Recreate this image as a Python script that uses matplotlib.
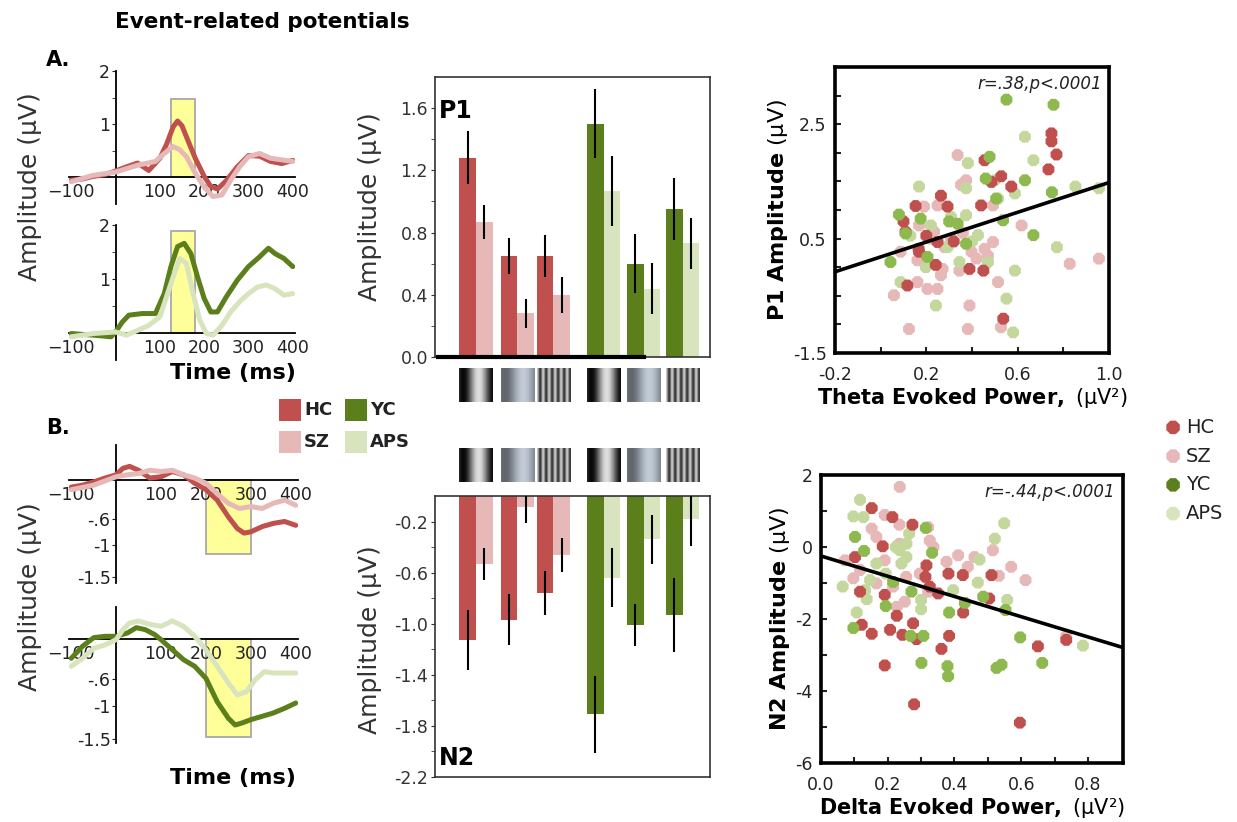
import numpy as np
import matplotlib.pyplot as plt
from matplotlib.patches import Rectangle

# ---- colours ----
c_hc, c_sz, c_yc, c_aps = '#C0504D', '#E6B9B8', '#5B7F1B', '#D7E4BD'
s_yc, s_aps = '#8DB94F', '#C4D89D'

# ---- ERP waveforms (A: P1 window, B: N2 window) ----
t_a_hc = [-100, -75, -50, -25, 0, 25, 50, 75, 100, 115, 130, 140, 150, 165, 180, 200, 215, 230, 250, 275, 300, 325, 350, 375, 400]
v_a_hc = [-0.05, -0.03, 0.02, 0.05, 0.12, 0.2, 0.27, 0.13, 0.36, 0.62, 0.95, 1.06, 0.97, 0.66, 0.36, 0.02, -0.17, -0.22, -0.06, 0.2, 0.41, 0.40, 0.30, 0.26, 0.32]
t_a_sz = [-100, -50, 0, 50, 90, 110, 130, 145, 160, 180, 200, 220, 240, 260, 280, 300, 325, 350, 375, 400]
v_a_sz = [-0.08, 0.04, 0.1, 0.23, 0.3, 0.45, 0.58, 0.52, 0.39, 0.08, -0.18, -0.36, -0.33, -0.05, 0.2, 0.39, 0.45, 0.36, 0.33, 0.3]
t_a_yc = [-100, -50, -10, 0, 15, 30, 60, 90, 110, 125, 140, 155, 170, 185, 200, 215, 230, 250, 275, 300, 325, 345, 360, 380, 400]
v_a_yc = [-0.01, -0.04, -0.07, 0.02, 0.2, 0.33, 0.36, 0.36, 0.73, 1.23, 1.6, 1.66, 1.47, 1.04, 0.64, 0.39, 0.39, 0.67, 0.98, 1.23, 1.41, 1.57, 1.47, 1.38, 1.23]
t_a_aps = [-100, -50, 0, 25, 50, 75, 100, 115, 130, 145, 160, 175, 190, 205, 220, 240, 260, 280, 300, 320, 340, 360, 380, 400]
v_a_aps = [-0.07, -0.01, 0.02, -0.04, 0.05, 0.14, 0.3, 0.67, 1.04, 1.38, 1.29, 0.73, 0.24, -0.01, -0.04, 0.14, 0.39, 0.58, 0.73, 0.85, 0.89, 0.82, 0.7, 0.73]

t_b_hc = [-100, -75, -50, -25, 0, 15, 30, 50, 75, 100, 125, 150, 175, 200, 225, 250, 270, 285, 300, 325, 350, 375, 400]
v_b_hc = [-0.11, -0.08, -0.03, 0.03, 0.08, 0.18, 0.21, 0.15, 0.03, 0.05, 0.13, 0.08, -0.05, -0.15, -0.31, -0.57, -0.75, -0.82, -0.8, -0.72, -0.67, -0.64, -0.7]
t_b_sz = [-100, -50, 0, 25, 50, 75, 100, 125, 150, 175, 200, 225, 250, 275, 300, 325, 350, 375, 400]
v_b_sz = [-0.15, -0.08, 0.05, 0.08, 0.1, 0.15, 0.13, 0.15, 0.08, 0.03, -0.05, -0.21, -0.36, -0.44, -0.41, -0.44, -0.36, -0.31, -0.39]
t_b_yc = [-100, -75, -50, -25, 0, 25, 45, 65, 85, 100, 125, 150, 175, 200, 225, 250, 265, 280, 300, 325, 350, 375, 400]
v_b_yc = [-0.29, -0.11, 0.02, 0.04, 0.04, 0.09, 0.17, 0.14, 0.07, -0.01, -0.16, -0.31, -0.41, -0.59, -0.94, -1.19, -1.29, -1.26, -1.21, -1.16, -1.11, -1.04, -0.96]
t_b_aps = [-100, -75, -50, -25, 0, 15, 30, 50, 75, 100, 125, 150, 175, 200, 225, 250, 270, 290, 310, 330, 350, 375, 400]
v_b_aps = [-0.41, -0.29, -0.14, -0.09, -0.01, 0.14, 0.24, 0.27, 0.22, 0.19, 0.27, 0.19, 0.04, -0.16, -0.41, -0.66, -0.84, -0.79, -0.61, -0.49, -0.51, -0.51, -0.51]

# ---- bar data: three stimulus conditions per group ----
p1_hc, p1_hc_e = [1.28, 0.65, 0.65], [0.17, 0.115, 0.135]
p1_sz, p1_sz_e = [0.87, 0.28, 0.40], [0.11, 0.095, 0.115]
p1_yc, p1_yc_e = [1.50, 0.60, 0.95], [0.22, 0.19, 0.20]
p1_aps, p1_aps_e = [1.07, 0.44, 0.73], [0.225, 0.165, 0.165]
n2_hc, n2_hc_e = [-1.13, -0.97, -0.76], [0.235, 0.20, 0.175]
n2_sz, n2_sz_e = [-0.53, -0.09, -0.46], [0.125, 0.12, 0.135]
n2_yc, n2_yc_e = [-1.71, -1.01, -0.93], [0.30, 0.165, 0.29]
n2_aps, n2_aps_e = [-0.64, -0.34, -0.18], [0.23, 0.19, 0.215]

# ---- scatter data ----
p1_hc_x = [0.748, 0.748, 0.770, 0.735, 0.455, 0.485, 0.528, 0.572, 0.264, 0.293, 0.44, 0.153, 0.109, 0.168, 0.117, 0.389, 0.45, 0.537, 0.249, 0.10, 0.241, 0.166, 0.20, 0.32]
p1_hc_y = [2.34, 2.20, 1.97, 1.71, 1.87, 1.49, 1.59, 1.41, 1.25, 1.06, 1.08, 1.07, 0.62, 0.27, -0.32, -0.03, -0.06, -0.90, 0.44, 0.80, 0.04, 0.32, 0.55, 0.45]
p1_sz_x = [0.337, 0.374, 0.352, 0.249, 0.19, 0.168, 0.234, 0.271, 0.264, 0.161, 0.161, 0.205, 0.249, 0.058, 0.124, 0.382, 0.389, 0.527, 0.514, 0.492, 0.617, 0.828, 0.956, 0.398, 0.455, 0.345, 0.087, 0.308, 0.42, 0.492, 0.28, 0.22, 0.36, 0.47]
p1_sz_y = [1.96, 1.52, 1.44, 1.08, 1.06, 0.73, 0.62, -0.03, -0.14, 0.12, -0.26, -0.38, -0.38, -0.49, -1.08, -1.08, -0.67, -1.05, -0.26, 0.44, 0.73, 0.06, 0.15, 0.27, 0.32, -0.06, 0.27, 0.5, 0.15, 1.08, 0.35, 0.5, 0.6, 0.2]
p1_yc_x = [0.551, 0.757, 0.477, 0.632, 0.75, 0.506, 0.536, 0.08, 0.175, 0.337, 0.109, 0.043, 0.205, 0.374, 0.669, 0.30, 0.46]
p1_yc_y = [2.93, 2.84, 1.93, 1.52, 1.31, 1.2, 0.82, 0.92, 0.85, 0.76, 0.59, 0.09, 0.18, 0.41, 0.56, 0.80, 1.55]
p1_aps_x = [0.632, 0.669, 0.382, 0.168, 0.374, 0.5, 0.588, 0.853, 0.956, 0.22, 0.308, 0.374, 0.426, 0.772, 0.588, 0.551, 0.58, 0.087, 0.242, 0.198, 0.345, 0.47, 0.514, 0.293, 0.13, 0.40]
p1_aps_y = [2.28, 1.87, 1.82, 1.41, 1.38, 1.52, 1.29, 1.41, 1.38, 0.73, 0.88, 0.91, 0.56, 0.35, -0.06, -0.55, -1.14, -0.26, -0.67, 0.0, 0.09, 0.09, 1.2, 0.35, 0.55, 0.45]

n2_hc_x = [0.152, 0.214, 0.274, 0.185, 0.102, 0.117, 0.122, 0.152, 0.207, 0.244, 0.276, 0.286, 0.191, 0.279, 0.361, 0.384, 0.426, 0.382, 0.425, 0.316, 0.313, 0.326, 0.351, 0.511, 0.504, 0.65, 0.596, 0.735, 0.227, 0.191]
n2_hc_y = [1.08, 0.83, 0.62, 0.02, -0.28, -1.24, -2.16, -2.41, -2.3, -2.44, -2.12, -2.56, -3.29, -4.37, -2.83, -2.47, -1.82, -0.74, -0.78, -0.51, -0.83, -1.1, -1.29, -0.78, -1.43, -2.76, -4.88, -2.58, -1.91, -1.33]
n2_sz_x = [0.236, 0.191, 0.235, 0.152, 0.166, 0.321, 0.326, 0.337, 0.235, 0.072, 0.097, 0.117, 0.191, 0.255, 0.296, 0.251, 0.227, 0.321, 0.376, 0.411, 0.44, 0.46, 0.515, 0.533, 0.57, 0.613, 0.735, 0.166, 0.216]
n2_sz_y = [1.67, 0.89, 0.62, 0.51, 0.28, 0.55, 0.18, 0.0, 0.09, -0.37, -0.87, -0.64, -0.37, -0.83, -0.74, -1.52, -1.66, -1.24, -0.41, -0.23, -0.55, -0.28, -0.09, -0.8, -0.55, -0.92, -2.48, -1.01, -1.1]
n2_yc_x = [0.102, 0.129, 0.314, 0.333, 0.216, 0.271, 0.194, 0.097, 0.269, 0.307, 0.301, 0.384, 0.379, 0.381, 0.486, 0.553, 0.597, 0.526, 0.541, 0.663, 0.431]
n2_yc_y = [0.28, -0.11, 0.53, -0.16, -0.97, -1.24, -1.64, -2.25, -2.47, -2.47, -3.22, -1.82, -3.31, -3.59, -1.38, -1.75, -2.51, -3.36, -3.27, -3.22, -1.55]
n2_aps_x = [0.117, 0.097, 0.127, 0.264, 0.236, 0.224, 0.256, 0.256, 0.065, 0.107, 0.132, 0.137, 0.166, 0.194, 0.241, 0.3, 0.3, 0.396, 0.475, 0.47, 0.521, 0.549, 0.558, 0.785, 0.147]
n2_aps_y = [1.31, 0.85, 0.83, 0.37, -0.09, 0.0, 0.09, -0.28, -1.1, -1.82, -1.2, -1.45, -0.46, -0.74, -0.46, -1.47, -1.73, -1.2, -0.35, -0.99, 0.23, 0.66, -1.47, -2.74, -0.92]

p1_fit = (1.30, 0.18)     # slope, intercept
n2_fit = (-2.81, -0.25)

W, H = 1237, 822
fig = plt.figure(figsize=(W / 100, H / 100), dpi=100)


def box(l, t, r, b):
    return [l / W, 1 - b / H, (r - l) / W, (b - t) / H]


def erp_panel(px, ylim, yt, ylab, yminor, win, curves):
    ax = fig.add_axes(box(*px))
    ax.set_xlim(-105, 405)
    ax.set_ylim(*ylim)
    ax.patch.set_alpha(0)
    for s in ['top', 'right']:
        ax.spines[s].set_visible(False)
    ax.spines['left'].set_position(('data', 0))
    ax.spines['bottom'].set_position(('data', 0))
    ax.spines['left'].set_linewidth(1.3)
    ax.spines['bottom'].set_linewidth(1.3)
    ax.set_xticks([-100, 100, 200, 300, 400])
    ax.tick_params(axis='x', length=0, labelsize=12.5, pad=4, colors='#222222')
    ax.set_yticks(yt, ylab)
    ax.set_yticks(yminor, minor=True)
    ax.tick_params(axis='y', which='both', direction='out', length=3, labelsize=12.5, pad=1, colors='#222222')
    ax.add_patch(Rectangle((win[0], win[2]), win[1] - win[0], win[3] - win[2],
                           fc='#FFFF99', ec='#A8A8A8', lw=1.3, zorder=1))
    for t, v, c in curves:
        ax.plot(t, v, color=c, lw=3.6, solid_capstyle='round', zorder=3)
    return ax


erp_panel((69, 71, 295, 204), (-0.5, 2.0), [1, 2], ['1', '2'], [0.5, 1.5], (125, 180, 0, 1.47),
          [(t_a_hc, v_a_hc, c_hc), (t_a_sz, v_a_sz, c_sz)])
erp_panel((69, 225, 295, 360), (-0.5, 2.0), [1, 2], ['1', '2'], [0.5, 1.5], (125, 180, 0, 1.89),
          [(t_a_yc, v_a_yc, c_yc), (t_a_aps, v_a_aps, c_aps)])
erp_panel((69, 445, 298, 583), (-1.59, 0.54), [-1.5, -1.0, -0.6], ['-1.5', '-1', '-.6'], [], (200, 300, -1.15, 0),
          [(t_b_hc, v_b_hc, c_hc), (t_b_sz, v_b_sz, c_sz)])
erp_panel((69, 607, 298, 743), (-1.56, 0.48), [-1.5, -1.0, -0.6], ['-1.5', '-1', '-.6'], [], (200, 300, -1.47, 0),
          [(t_b_yc, v_b_yc, c_yc), (t_b_aps, v_b_aps, c_aps)])

fig.text(262 / W, 1 - 22 / H, 'Event-related potentials', ha='center', va='center', fontsize=15.5, fontweight='bold')
fig.text(58 / W, 1 - 60 / H, 'A.', ha='center', va='center', fontsize=15, fontweight='bold')
fig.text(58 / W, 1 - 428 / H, 'B.', ha='center', va='center', fontsize=15, fontweight='bold')
for yc in (187, 597):
    fig.text(30 / W, 1 - yc / H, 'Amplitude (μV)', rotation=90, ha='center', va='center', fontsize=18, color='#333333')
for yc in (373, 778):
    fig.text(233 / W, 1 - yc / H, 'Time (ms)', ha='center', va='center', fontsize=16, fontweight='bold')

# middle legend
leg = [('HC', c_hc, 279, 410), ('YC', c_yc, 345, 410), ('SZ', c_sz, 279, 442), ('APS', c_aps, 345, 442)]
for name, col, lx, ly in leg:
    fig.patches.append(Rectangle((lx / W, 1 - (ly + 11) / H), 22 / W, 22 / H, fc=col, ec='none',
                                 transform=fig.transFigure, figure=fig))
    fig.text((lx + 25) / W, 1 - ly / H, name, ha='left', va='center', fontsize=13, fontweight='bold', color='#222222')

# ---- bar charts ----
pair_pos = np.array([2.46, 4.92, 7.08, 10.08, 12.48, 14.82])
bw = 1.0


def grating(kind, n=80):
    u = np.linspace(0, 1, n)
    if kind == 0:
        g = 0.45 + 0.42 * np.cos(2 * np.pi * (u - 0.58) / 0.92)
        rgb = np.stack([g, g, g], -1)
    elif kind == 1:
        g = 0.6 + 0.2 * np.cos(2 * np.pi * (u - 0.66) / 1.1)
        rgb = np.stack([g * 0.95, g * 1.0, g * 1.06], -1)
    else:
        g = 0.5 + 0.3 * np.cos(2 * np.pi * u * 5.6)
        rgb = np.stack([g, g, g], -1)
    return np.clip(rgb[None, :, :], 0, 1)


def grating_strip(px):
    ax = fig.add_axes(box(*px))
    ax.set_xlim(0, 16.45)
    ax.set_ylim(0, 1)
    ax.axis('off')
    for i, c in enumerate(pair_pos):
        ax.imshow(grating(i % 3), extent=(c - bw, c + bw, 0, 1), aspect='auto', interpolation='bilinear')


def bar_panel(px, ylim, major, minor, ctrl, pat, cols, tag, tag_y):
    ax = fig.add_axes(box(*px))
    ax.set_xlim(0, 16.45)
    ax.set_ylim(*ylim)
    ctrl_v = ctrl[0][0] + ctrl[1][0]
    ctrl_e = ctrl[0][1] + ctrl[1][1]
    pat_v = pat[0][0] + pat[1][0]
    pat_e = pat[0][1] + pat[1][1]
    for i, c in enumerate(pair_pos):
        k = 0 if i < 3 else 1
        ax.bar(c - bw / 2, ctrl_v[i], width=bw, color=cols[k][0], zorder=2)
        ax.bar(c + bw / 2, pat_v[i], width=bw, color=cols[k][1], zorder=2)
        ax.errorbar(c - bw / 2, ctrl_v[i], yerr=ctrl_e[i], fmt='none', ecolor='black', elinewidth=1.5, capsize=0, zorder=3)
        ax.errorbar(c + bw / 2, pat_v[i], yerr=pat_e[i], fmt='none', ecolor='black', elinewidth=1.5, capsize=0, zorder=3)
    ax.set_xticks([])
    ax.set_yticks(major, ['%.1f' % m for m in major])
    ax.set_yticks(minor, minor=True)
    ax.tick_params(axis='y', which='both', direction='out', length=3, labelsize=12.5, pad=2, colors='#333333')
    for s in ax.spines.values():
        s.set_color('#333333')
        s.set_linewidth(1.2)
    ax.text(0.25, tag_y, tag, fontsize=17, fontweight='bold', va='center')
    return ax


ax_p1 = bar_panel((435, 77, 710, 357), (0, 1.8), [0.0, 0.4, 0.8, 1.2, 1.6], [0.2, 0.6, 1.0, 1.4],
                  ((p1_hc, p1_hc_e), (p1_yc, p1_yc_e)), ((p1_sz, p1_sz_e), (p1_aps, p1_aps_e)),
                  ((c_hc, c_sz), (c_yc, c_aps)), 'P1', 1.58)
ax_p1.plot([0.15, 12.5], [0, 0], color='black', lw=3, clip_on=False, zorder=4)
ax_n2 = bar_panel((435, 496, 710, 777), (-2.2, 0), [-2.2, -1.8, -1.4, -1.0, -0.6, -0.2], [-2.0, -1.6, -1.2, -0.8, -0.4],
                  ((n2_hc, n2_hc_e), (n2_yc, n2_yc_e)), ((n2_sz, n2_sz_e), (n2_aps, n2_aps_e)),
                  ((c_hc, c_sz), (c_yc, c_aps)), 'N2', -2.05)
grating_strip((435, 368, 710, 402))
grating_strip((435, 448, 710, 482))
for yc in (207, 640):
    fig.text(370 / W, 1 - yc / H, 'Amplitude (μV)', rotation=90, ha='center', va='center', fontsize=18, color='#333333')


# ---- scatter plots ----
def scatter_panel(px, xlim, ylim, xmaj, xmin, ymaj, ymin, xlabels, ylabels, data, fit, note, xlab, ylab):
    ax = fig.add_axes(box(*px))
    for x, y, col in data:
        ax.scatter(x, y, s=85, marker='8', color=col, edgecolors='none', zorder=2)
    xs = np.array(xlim)
    ax.plot(xs, fit[0] * xs + fit[1], color='black', lw=2.6, zorder=3)
    ax.set_xlim(*xlim)
    ax.set_ylim(*ylim)
    ax.set_xticks(xmaj, xlabels)
    ax.set_xticks(xmin, minor=True)
    ax.set_yticks(ymaj, ylabels)
    ax.set_yticks(ymin, minor=True)
    ax.tick_params(which='both', direction='in', length=4, width=1.5, labelsize=12.5, colors='#222222')
    ax.tick_params(axis='x', pad=9)
    ax.tick_params(axis='y', pad=6)
    for s in ax.spines.values():
        s.set_linewidth(2.6)
    ax.text(0.975, 0.94, note, transform=ax.transAxes, ha='right', va='center', fontsize=12, style='italic', color='#222222')
    ax.set_xlabel(xlab, fontsize=15, labelpad=2)
    ax.set_ylabel(ylab, fontsize=16, labelpad=2)
    return ax


scatter_panel((835, 67, 1109, 353), (-0.2, 1.0), (-1.5, 3.5),
              [-0.2, 0.2, 0.6, 1.0], [0.0, 0.4, 0.8], [-1.5, 0.5, 2.5], [-1.0, -0.5, 0.0, 1.0, 1.5, 2.0, 3.0],
              ['-0.2', '0.2', '0.6', '1.0'], ['-1.5', '0.5', '2.5'],
              [(p1_sz_x, p1_sz_y, c_sz), (p1_aps_x, p1_aps_y, s_aps), (p1_hc_x, p1_hc_y, c_hc), (p1_yc_x, p1_yc_y, s_yc)],
              p1_fit, 'r=.38,p<.0001', r'$\mathbf{Theta\ Evoked\ Power,}$ (μV²)', r'$\mathbf{P1\ Amplitude}$ (μV)')
scatter_panel((821, 475, 1123, 763), (0, 0.905), (-6, 2),
              [0.0, 0.2, 0.4, 0.6, 0.8], [0.1, 0.3, 0.5, 0.7], [-6, -4, -2, 0, 2], [-5, -3, -1, 1],
              ['0.0', '0.2', '0.4', '0.6', '0.8'], ['-6', '-4', '-2', '0', '2'],
              [(n2_sz_x, n2_sz_y, c_sz), (n2_aps_x, n2_aps_y, s_aps), (n2_hc_x, n2_hc_y, c_hc), (n2_yc_x, n2_yc_y, s_yc)],
              n2_fit, 'r=-.44,p<.0001', r'$\mathbf{Delta\ Evoked\ Power,}$ (μV²)', r'$\mathbf{N2\ Amplitude}$ (μV)')

# scatter legend
lax = fig.add_axes(box(1160, 413, 1237, 528))
lax.set_xlim(0, 1)
lax.set_ylim(0, 4)
lax.axis('off')
for i, (name, col) in enumerate([('HC', c_hc), ('SZ', c_sz), ('YC', c_yc), ('APS', c_aps)]):
    lax.scatter(0.17, 3.5 - i, s=110, marker='8', color=col, edgecolors='none')
    lax.text(0.34, 3.5 - i, name, fontsize=14, va='center', ha='left', color='#222222')

fig.savefig('out.png', dpi=100)
